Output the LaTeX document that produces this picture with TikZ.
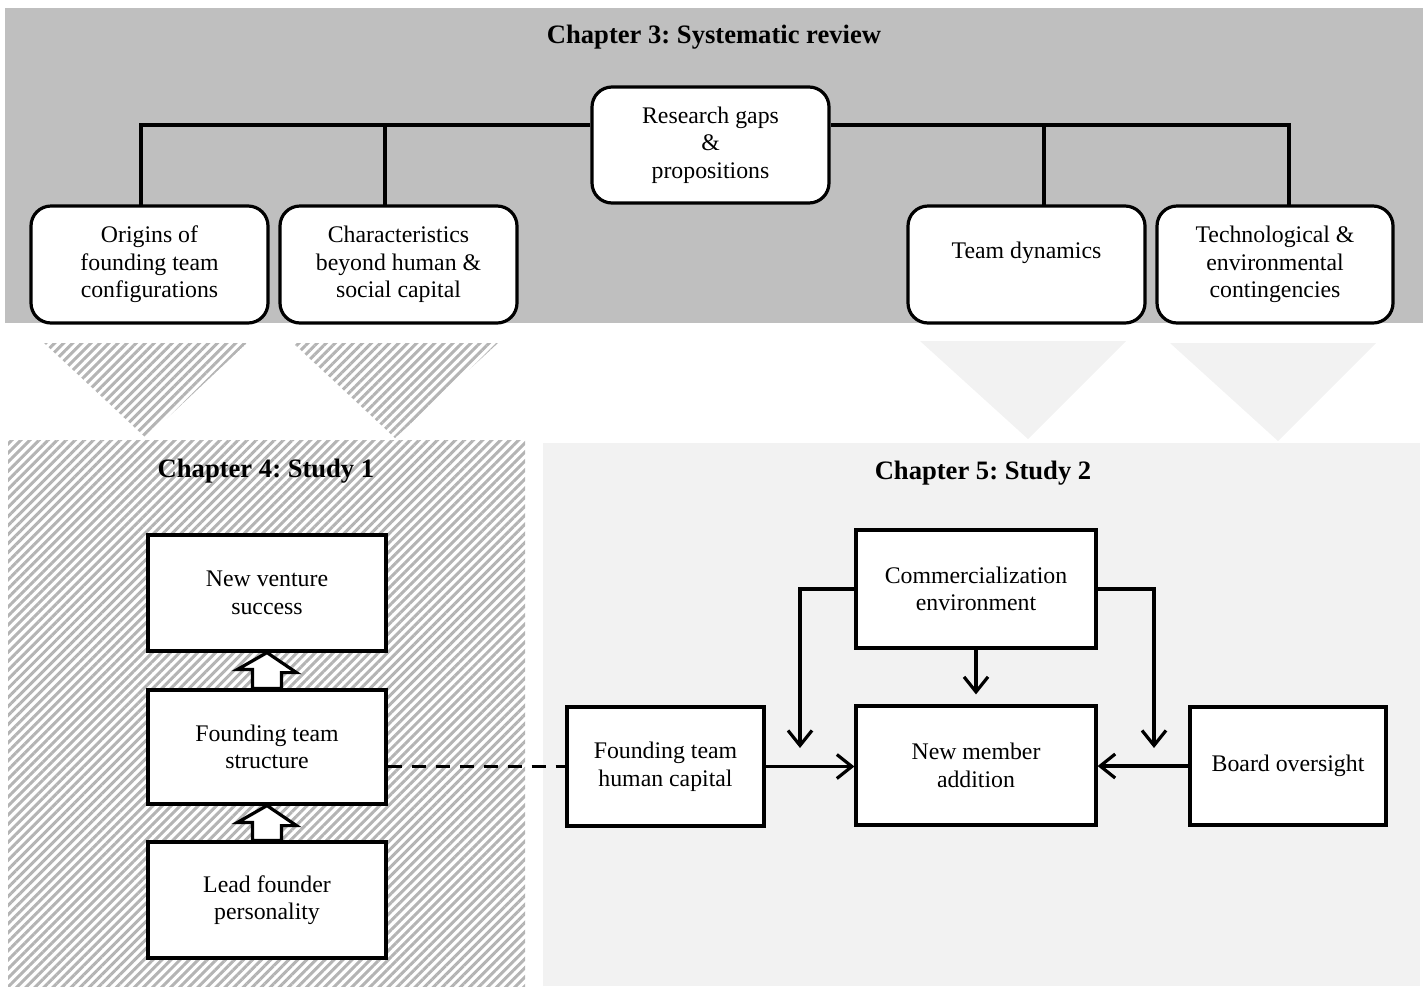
\documentclass[tikz,border=0pt]{standalone}
\usepackage{fontspec}
\setmainfont{Liberation Serif}
\frenchspacing
\usetikzlibrary{arrows.meta,patterns.meta}
\definecolor{bandgray}{HTML}{BFBFBF}
\definecolor{panelgray}{HTML}{F2F2F2}
\definecolor{hatchgray}{HTML}{B4B4B4}
\tikzset{
  txt/.style={font=\fontsize{11.9pt}{13.8pt}\selectfont, align=center},
  ttl/.style={font=\fontsize{13.3pt}{15pt}\selectfont\bfseries},
  rbox/.style={txt, draw, fill=white, line width=1.6pt, rounded corners=10pt, inner sep=0pt, minimum width=118.5pt, minimum height=58.5pt},
  sbox/.style={txt, draw, fill=white, line width=1.6pt, inner sep=0pt, minimum width=119pt, minimum height=58pt},
  conn/.style={line width=1.6pt},
  arr/.style={line width=1.6pt, -{Straight Barb[length=7.5pt,width=12pt,line width=1.6pt]}},
  blk/.style={draw, fill=white, line width=1.6pt, line join=miter},
  hatch/.style={pattern={Lines[angle=45,distance=3.2pt,line width=1.5pt]}, pattern color=hatchgray},
}
\begin{document}
\begin{tikzpicture}[x=0.5pt,y=-0.5pt]
\useasboundingbox (0,0) rectangle (1428,986);
% backgrounds
\fill[bandgray] (5,8) rectangle (1423,323);
\fill[hatch] (8,440) rectangle (525,986);
\fill[panelgray] (543,443) rectangle (1420,986);
% triangles
\fill[hatch] (44,343) -- (247,343) -- (146,438) -- cycle;
\fill[hatch] (293,343) -- (498,343) -- (395,438) -- cycle;
\fill[panelgray] (920,341) -- (1126,341) -- (1028,439) -- cycle;
\fill[panelgray] (1170,343) -- (1376,343) -- (1278,441) -- cycle;
% titles
\node[ttl] (t3) at (714,37) {Chapter 3: Systematic review};
\node[ttl] (t4) at (266,471) {Chapter 4: Study 1};
\node[ttl] (t5) at (983,473) {Chapter 5: Study 2};
% chapter 3 boxes
\node[rbox, minimum height=58pt] (gaps) at (710.5,145) {Research gaps\\\&\\propositions};
\node[rbox] (orig) at (149.5,264.5) {Origins of\\founding team\\configurations};
\node[rbox] (char) at (398.5,264.5) {Characteristics\\beyond human \&\\social capital};
\node[rbox] (team) at (1026.5,264.5) {Team dynamics\\[0pt]~};
\node[rbox, minimum width=118pt] (tech) at (1275,264.5) {Technological \&\\environmental\\contingencies};
% tree connectors
\coordinate (hy) at (0,125);
\coordinate (o1) at (141,206);
\coordinate (c1) at (385,206);
\coordinate (d1) at (1044,206);
\coordinate (e1) at (1289,206);
\draw[conn] (o1) |- (gaps.west |- hy);
\draw[conn] (c1) -- (c1 |- hy);
\draw[conn] (e1) |- (gaps.east |- hy);
\draw[conn] (d1) -- (d1 |- hy);
% chapter 4
\node[sbox] (nvs) at (267,593) {New venture\\success};
\node[sbox, minimum height=57pt] (fts) at (267,747) {Founding team\\structure};
\node[sbox] (lfp) at (267,900) {Lead founder\\personality};
\draw[blk] (nvs.south) -- ++(29.5,20) -- ++(-15,0) -- (fts.north -| 281.5,0) -- (fts.north -| 252.5,0) -- ++(0,-19) -- ++(-15,0) -- cycle;
\draw[blk] (fts.south) -- ++(29.5,20) -- ++(-15,0) -- (lfp.north -| 281.5,0) -- (lfp.north -| 252.5,0) -- ++(0,-18) -- ++(-15,0) -- cycle;
% chapter 5
\node[sbox, minimum width=98.5pt, minimum height=59.5pt] (fthc) at (665.5,766.5) {Founding team\\human capital};
\node[sbox, minimum width=120pt, minimum height=59.5pt] (nma) at (976,765.5) {New member\\addition};
\node[sbox, minimum width=120pt, minimum height=59pt] (ce) at (976,589) {Commercialization\\environment};
\node[sbox, minimum width=98pt, minimum height=59pt] (bo) at (1288,766) {Board oversight};
\draw[line width=1.7pt, dash pattern=on 7pt off 5pt] (fthc.west -| fts.east) -- (fthc.west);
\draw[arr] (fthc.east) -- (fthc.east -| nma.west);
\draw[arr] (bo.west) -- (bo.west -| nma.east);
\draw[arr, shorten >=5pt] (ce.south) -- (nma.north);
\coordinate (cl) at (800,748);
\coordinate (cr) at (1154,748);
\draw[arr] (ce.west) -| (cl);
\draw[arr] (ce.east) -| (cr);
\end{tikzpicture}
\end{document}
